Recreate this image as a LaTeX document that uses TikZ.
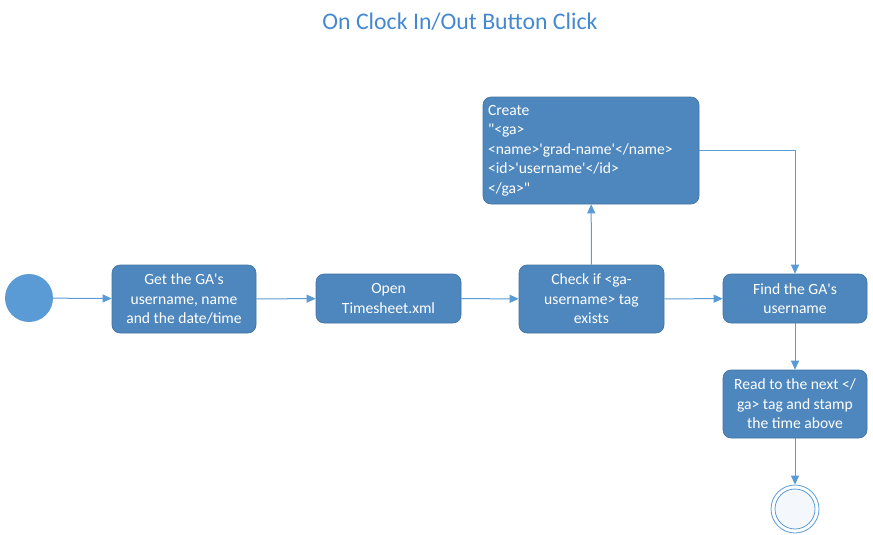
\documentclass[tikz,border=0pt]{standalone}
\usepackage{fontspec}
\setmainfont{Carlito}[Ligatures=TeXOff]
\usetikzlibrary{arrows.meta,positioning}
\definecolor{boxfill}{RGB}{78,135,189}
\definecolor{boxline}{RGB}{65,113,160}
\definecolor{lineblue}{RGB}{91,155,213}
\definecolor{titleblue}{RGB}{68,136,210}
\begin{document}
\begin{tikzpicture}[x=1pt,y=-1pt,
  stepbox/.style={draw=boxline,line width=0.6pt,fill=boxfill,rounded corners=8pt,text=white,
    font=\fontsize{15.6}{19.6}\selectfont,align=center,inner sep=0pt},
  conn/.style={draw=lineblue,line width=1pt,-{Triangle[length=9pt,width=8pt]}},
  plain/.style={draw=lineblue,line width=1pt}]
\useasboundingbox (0,0) rectangle (873,535);
\node[font=\fontsize{23.8}{28}\selectfont,text=titleblue] (title) at (460,22) {On Clock In/Out Button Click};
\node[circle,fill=lineblue,minimum size=48pt,inner sep=0pt] (start) at (29,298) {};
\node[stepbox,minimum width=144pt,minimum height=68pt] (b1) at (184,299) {Get the GA's\\username, name\\and the date/time};
\node[stepbox,minimum width=145pt,minimum height=49pt] (b2) at (388.5,298.5) {Open\\Timesheet.xml};
\node[stepbox,minimum width=145pt,minimum height=68pt] (b3) at (591.5,299) {Check if <ga-\\username> tag\\exists};
\node[stepbox,minimum width=216pt,minimum height=107pt,align=left,text width=206pt] (b4) at (591,150.5) {Create\\"<ga>\\<name>'grad-name'</name>\\<id>'username'</id>\\</ga>"};
\node[stepbox,minimum width=144pt,minimum height=49pt] (b5) at (795,298.5) {Find the GA's\\username};
\node[stepbox,minimum width=144pt,minimum height=68pt] (b6) at (795,404) {Read to the next </\\ga> tag and stamp\\the time above};
\node[circle,draw=lineblue,line width=0.8pt,fill=white,minimum size=48pt,inner sep=0pt] (endo) at (795,509) {};
\node[circle,draw=lineblue,line width=0.8pt,fill=white!93!lineblue,minimum size=40pt,inner sep=0pt] (endi) at (795,509) {};
\coordinate (corner) at (795,150);
\draw[conn] (start) -- (b1);
\draw[conn] (b1) -- (b2);
\draw[conn] (b2) -- (b3);
\draw[conn] (b3) -- (b4);
\draw[conn] (b3) -- (b5);
\draw[conn] (b4.east |- corner) -- (corner) -- (b5);
\draw[conn] (b5) -- (b6);
\draw[conn] (b6) -- (endo);
\end{tikzpicture}
\end{document}
